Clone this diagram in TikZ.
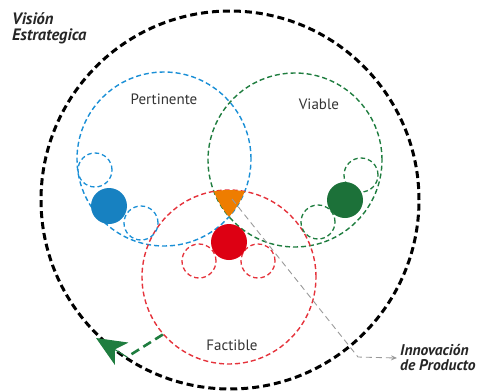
\documentclass[tikz,border=0pt]{standalone}
\usepackage{fontspec}
\setmainfont{PT Sans}
\usetikzlibrary{arrows.meta}

\definecolor{pertblue}{HTML}{1A8FD6}
\definecolor{viabgreen}{HTML}{1F7D3F}
\definecolor{factred}{HTML}{E5323B}
\definecolor{dotred}{HTML}{DD0013}
\definecolor{innovorange}{HTML}{EE7D00}
\definecolor{labelgrey}{HTML}{333333}

\tikzset{
  ring/.style={circle,draw,dash pattern=on 5pt off 3pt,line width=1.4pt,minimum size=174pt,inner sep=0pt},
  smallring/.style={circle,draw,dash pattern=on 4.5pt off 3pt,line width=1.3pt,minimum size=34pt,inner sep=0pt},
  dot/.style={circle,fill,minimum size=36pt,inner sep=0pt},
  setlabel/.style={font=\fontsize{15}{17}\selectfont,text=labelgrey},
  biglabel/.style={font=\fontsize{16.5}{19}\selectfont\bfseries\itshape,text=black!85,align=left}
}

\begin{document}
\begin{tikzpicture}[x=1pt,y=-1pt]
  \useasboundingbox (0,0) rectangle (480,391);
  % vision circle
  \node[circle,draw,line width=3pt,dash pattern=on 7pt off 4pt,minimum size=378pt,inner sep=0pt] (vision) at (230,200) {};
  \node[biglabel,anchor=north west,inner sep=0pt] (visionlbl) at (12,12) {Visión\\[-3pt]Estrategica};

  % the three sets
  \node[ring,draw=pertblue] (pert) at (164,159) {};
  \node[ring,draw=viabgreen] (viab) at (295,160) {};
  \node[ring,draw=factred] (fact) at (229,277) {};
  \node[setlabel] (pertlbl) at (164,99) {Pertinente};
  \node[setlabel] (viablbl) at (319,104) {Viable};
  \node[setlabel] (factlbl) at (232,345) {Factible};

  % common region
  \begin{scope}
    \clip (pert.center) circle [radius=87pt];
    \clip (viab.center) circle [radius=87pt];
    \fill[innovorange] (fact.center) circle [radius=87pt];
  \end{scope}

  % small circles and dots
  \node[smallring,draw=pertblue] (pertA) at (95,170) {};
  \node[smallring,draw=pertblue] (pertB) at (141,223) {};
  \node[dot,fill=pertblue!90!black] (pertdot) at (109,206) {};
  \node[smallring,draw=viabgreen] (viabA) at (361,175) {};
  \node[smallring,draw=viabgreen] (viabB) at (318,222) {};
  \node[dot,fill=viabgreen!90!black] (viabdot) at (345,200) {};
  \node[smallring,draw=factred] (factA) at (199,261) {};
  \node[smallring,draw=factred] (factB) at (258,261) {};
  \node[dot,fill=dotred] (factdot) at (229,242) {};

  % innovation pointer
  \coordinate (innov) at (232,199);
  \coordinate (innovbend) at (358,357);
  \node[biglabel,font=\fontsize{15.5}{18}\selectfont\bfseries\itshape,anchor=west,inner sep=0pt] (prod) at (400,358) {Innovación\\[-3pt]de Producto};
  \draw[gray!80,line width=0.9pt,dash pattern=on 6pt off 4pt,-{Stealth[length=6pt,width=5pt]}] (innov) -- (innovbend) -- ([xshift=-3pt]prod.west);

  % feedback arrow
  \coordinate (backbend) at (127,357);
  \coordinate (backtip) at (96,338);
  \draw[viabgreen,line width=2.6pt,dash pattern=on 9pt off 5pt] (fact.221) -- (backbend);
  \draw[viabgreen,line width=1pt,-{Stealth[length=30pt,width=26pt,inset=8pt]}] (backbend) -- (backtip);
\end{tikzpicture}
\end{document}
